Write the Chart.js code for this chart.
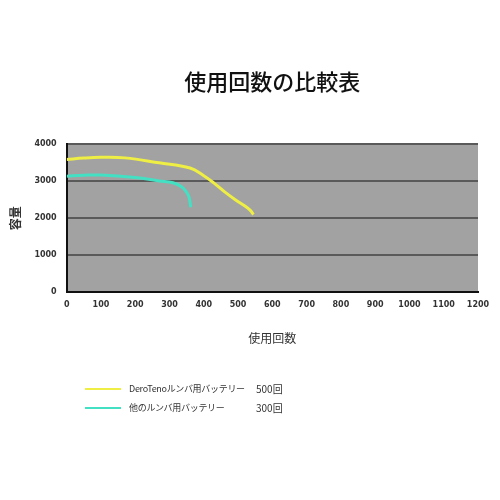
<!DOCTYPE html>
<html>
<head>
<meta charset="utf-8">
<script src="https://cdn.jsdelivr.net/npm/chart.js@4"></script>
<style>
  html, body { margin: 0; padding: 0; background: #fff; }
  #wrap { position: relative; width: 500px; height: 500px; }
  #legend { position: absolute; left: 85px; top: 379px; font-family: "Noto Sans CJK JP", sans-serif; font-size: 9px; color: #333; }
  #legend .row { display: flex; align-items: center; height: 19px; white-space: nowrap; }
  #legend .line { width: 36px; height: 2px; margin-right: 8px; }
  #legend .name { width: 127px; letter-spacing: -0.3px; }
  #legend .count { font-size: 10px; }
</style>
</head>
<body>
<div id="wrap">
  <canvas id="chart" width="500" height="500"></canvas>
  <div id="legend"></div>
</div>
<script>
// 使用回数の比較表
const xTicks = [0, 100, 200, 300, 400, 500, 600, 700, 800, 900, 1000, 1100, 1200];
const yTicks = [0, 1000, 2000, 3000, 4000];

const seriesNames = ['DeroTenoルンバ用バッテリー', '他のルンバ用バッテリー'];
const seriesCounts = ['500回', '300回'];
const seriesColors = ['#eeee44', '#44e0c4'];

// DeroTeno
const deroX = [0, 50, 100, 170, 270, 360, 400, 430, 460, 495, 520, 535, 545];
const deroY = [3590, 3630, 3650, 3635, 3500, 3360, 3150, 2950, 2720, 2480, 2330, 2220, 2100];

// 他社
const otherX = [0, 50, 100, 200, 270, 310, 337, 350, 357, 362];
const otherY = [3140, 3165, 3170, 3100, 3010, 2960, 2840, 2700, 2570, 2300];

function toPoints(xs, ys) {
    return xs.map((x, i) => ({ x: x, y: ys[i] }));
}

const plotBg = {
    id: 'plotBg',
    beforeDraw(chart) {
        const { ctx, chartArea: a } = chart;
        ctx.save();
        ctx.fillStyle = '#a2a2a2';
        ctx.fillRect(a.left, a.top, a.right - a.left, a.bottom - a.top);
        ctx.restore();
    }
};

const ctx = document.getElementById('chart').getContext('2d');
new Chart(ctx, {
    type: 'line',
    data: {
        datasets: [
            {
                label: seriesNames[0],
                data: toPoints(deroX, deroY),
                borderColor: seriesColors[0],
                borderWidth: 3,
                pointRadius: 0,
                tension: 0.4,
                fill: false
            },
            {
                label: seriesNames[1],
                data: toPoints(otherX, otherY),
                borderColor: seriesColors[1],
                borderWidth: 3,
                pointRadius: 0,
                tension: 0.4,
                fill: false
            }
        ]
    },
    options: {
        responsive: false,
        animation: false,
        layout: { padding: { top: 60, left: 4, right: 22, bottom: 150 } },
        plugins: {
            legend: { display: false },
            tooltip: { enabled: false },
            title: {
                display: true,
                fullSize: false,
                text: '使用回数の比較表',
                color: '#111',
                font: { family: 'Noto Sans CJK JP', size: 22, weight: '500' },
                padding: { top: 8, bottom: 50 }
            }
        },
        scales: {
            x: {
                type: 'linear',
                min: 0,
                max: 1200,
                afterBuildTicks: axis => { axis.ticks = xTicks.map(v => ({ value: v })); },
                grid: { display: false, drawTicks: false },
                border: { color: '#111', width: 2 },
                ticks: {
                    color: '#333',
                    padding: 8,
                    autoSkip: false,
                    maxRotation: 0,
                    callback: v => String(v),
                    font: { family: 'DejaVu Sans', size: 8, weight: 'bold' }
                },
                title: {
                    display: true,
                    text: '使用回数',
                    color: '#333',
                    font: { family: 'Noto Sans CJK JP', size: 12 },
                    padding: { top: 14 }
                }
            },
            y: {
                min: 0,
                max: 4000,
                afterBuildTicks: axis => { axis.ticks = yTicks.map(v => ({ value: v })); },
                grid: { color: '#5a5a5a', lineWidth: 2, drawTicks: false },
                border: { color: '#111', width: 2 },
                ticks: {
                    color: '#333',
                    padding: 10,
                    callback: v => String(v),
                    font: { family: 'DejaVu Sans', size: 8, weight: 'bold' }
                },
                title: {
                    display: true,
                    text: '容量',
                    color: '#333',
                    font: { family: 'Noto Sans CJK JP', size: 12, weight: 'bold' },
                    padding: { bottom: 2 }
                }
            }
        }
    },
    plugins: [plotBg]
});

// legend
const legend = document.getElementById('legend');
seriesNames.forEach((name, i) => {
    const row = document.createElement('div');
    row.className = 'row';
    row.innerHTML = '<span class="line" style="background:' + seriesColors[i] + '"></span>' +
        '<span class="name">' + name + '</span><span class="count">' + seriesCounts[i] + '</span>';
    legend.appendChild(row);
});
</script>
</body>
</html>
